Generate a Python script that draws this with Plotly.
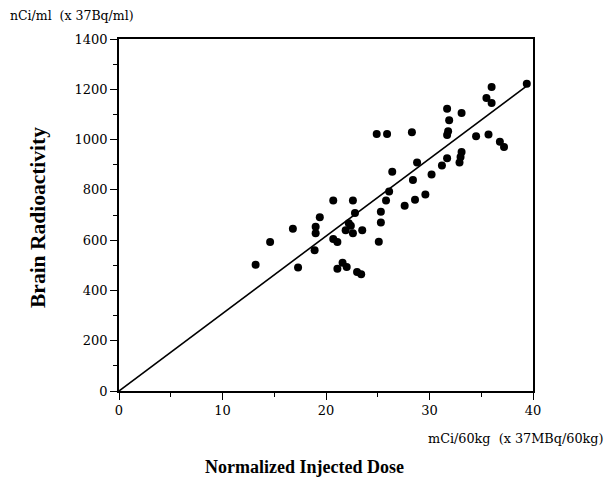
import plotly.graph_objects as go

dose = [13.2, 14.6, 16.8, 17.3, 18.9, 19.0, 19.0, 19.4, 20.7, 20.7, 21.1, 21.1, 21.6, 22.0,
        21.9, 22.2, 22.4, 22.6, 22.6, 22.8, 23.0, 23.4, 23.5, 24.9, 25.9, 25.1, 25.3, 25.3,
        25.8, 26.1, 26.4, 27.6, 28.3, 28.4, 28.6, 28.8, 29.6, 30.2, 31.2, 31.7, 31.7, 31.8,
        31.7, 31.9, 32.9, 33.0, 33.1, 33.1, 34.5, 35.5, 35.7, 36.0, 36.0, 36.8, 37.2, 39.4]
brain = [502, 593, 645, 491, 560, 653, 627, 691, 758, 605, 593, 486, 510, 493,
         639, 667, 657, 758, 627, 708, 473, 464, 639, 1022, 1022, 594, 670, 713,
         758, 793, 872, 737, 1029, 839, 761, 909, 782, 861, 897, 926, 1018, 1033,
         1123, 1077, 909, 931, 951, 1106, 1013, 1165, 1020, 1209, 1145, 991, 970, 1222]

fit_x = [0, 39.6]
fit_slope = 30.8
fit_y = [v * fit_slope for v in fit_x]

serif = "DejaVu Serif"
bold = "Liberation Serif"

# page has an 8px body margin; figure is sized/placed to land on the reference pixels
OFF = 8
W, H = 612 - OFF, 489 - OFF
ML, MR, MT, MB = 119 - OFF, 79, 39 - OFF, 98

fig = go.Figure()
fig.add_trace(go.Scatter(x=fit_x, y=fit_y, mode="lines",
                         line=dict(color="black", width=1.6), showlegend=False))
fig.add_trace(go.Scatter(x=dose, y=brain, mode="markers",
                         marker=dict(color="black", size=8), showlegend=False))

axis_common = dict(showline=True, linecolor="black", linewidth=1.6, mirror=True,
                   ticks="outside", ticklen=7, tickwidth=1.3, tickcolor="black",
                   showgrid=False, zeroline=False,
                   tickfont=dict(family=serif, size=13, color="black"))

fig.update_xaxes(range=[0, 40], tickvals=[0, 10, 20, 30, 40],
                 minor=dict(ticks="outside", ticklen=4, tickwidth=1.3, tickcolor="black",
                            dtick=5, tick0=0),
                 **axis_common)
fig.update_yaxes(range=[0, 1400], tickvals=list(range(0, 1401, 200)),
                 minor=dict(ticks="outside", ticklen=4, tickwidth=1.3, tickcolor="black",
                            dtick=100, tick0=0),
                 **axis_common)

pw = W - ML - MR
ph = H - MT - MB


def px(xp, yp):
    # page pixel (top-left origin) -> paper coords
    fx = xp - OFF
    fy = yp - OFF
    return (fx - ML) / pw, (H - MB - fy) / ph


ann = []
for text, (xp, yp), fam, size, xa, ang in [
    ("nCi/ml  (x 37Bq/ml)", (8, 16), serif, 12.5, "left", 0),
    ("mCi/60kg  (x 37MBq/60kg)", (606, 438), serif, 12.8, "right", 0),
    ("<b>Normalized Injected Dose</b>", (304, 467), bold, 18, "center", 0),
    ("<b>Brain Radioactivity</b>", (38, 218), bold, 21.5, "center", -90),
]:
    ax_, ay_ = px(xp, yp)
    ann.append(dict(text=text, x=ax_, y=ay_, xref="paper", yref="paper", showarrow=False,
                    font=dict(family=fam, size=size, color="black"), textangle=ang,
                    xanchor=xa, yanchor="middle"))

fig.update_layout(
    width=W, height=H,
    margin=dict(l=ML, r=MR, t=MT, b=MB, autoexpand=False),
    plot_bgcolor="white", paper_bgcolor="white",
    annotations=ann,
)

fig.write_html("out.html")
